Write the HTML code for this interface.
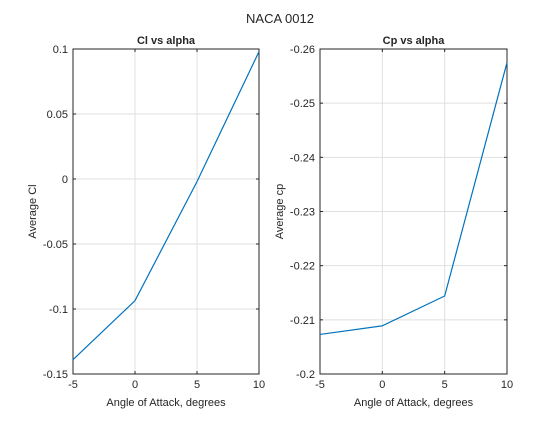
<!DOCTYPE html>
<html><head><meta charset="utf-8"><style>
body{margin:0;background:#fff;font-family:"Liberation Sans",sans-serif;}
svg text{font-family:"Liberation Sans",sans-serif;fill:#262626;}
</style></head><body>
<svg id="fig" width="560" height="420" viewBox="0 0 560 420" xmlns="http://www.w3.org/2000/svg">
<rect width="560" height="420" fill="#fff"/>
<text x="280" y="23" font-size="13" text-anchor="middle">NACA 0012</text>
</svg>
<script>
const alpha = [-5, 0, 5, 10];
const clValues = [-0.139, -0.0936, -0.002, 0.098];
const cpValues = [-0.2073, -0.2089, -0.2144, -0.2575];
const xTicks = [-5, 0, 5, 10];
const clTicks = [-0.15, -0.1, -0.05, 0, 0.05, 0.1];
const clTickLabels = ["-0.15", "-0.1", "-0.05", "0", "0.05", "0.1"];
const cpTicks = [-0.26, -0.25, -0.24, -0.23, -0.22, -0.21, -0.2];
const cpTickLabels = ["-0.26", "-0.25", "-0.24", "-0.23", "-0.22", "-0.21", "-0.2"];

const NS = "http://www.w3.org/2000/svg";
const svg = document.getElementById('fig');
function mk(tag, attrs, parent) {
  const e = document.createElementNS(NS, tag);
  for (const k in attrs) e.setAttribute(k, attrs[k]);
  (parent || svg).appendChild(e);
  return e;
}
function panel(name, x0, x1, y0, y1, yMin, yMax, reversed, yTicks, yLabels, vals, title, ylabel) {
  const g = mk('g', {});
  
  
  const sx = v => x0 + (v - xTicks[0]) / (xTicks[xTicks.length - 1] - xTicks[0]) * (x1 - x0);
  const sy = v => reversed ? y0 + (v - yMin) / (yMax - yMin) * (y1 - y0) : y1 - (v - yMin) / (yMax - yMin) * (y1 - y0);
  // grid
  xTicks.forEach(t => { const l = mk('line', {x1: sx(t), x2: sx(t), y1: y0, y2: y1, stroke: '#dfdfdf', 'stroke-width': 1}, g);
      });
  yTicks.forEach(t => { const l = mk('line', {x1: x0, x2: x1, y1: sy(t), y2: sy(t), stroke: '#dfdfdf', 'stroke-width': 1}, g);
      });
  // box
  const r = mk('rect', {x: x0, y: y0, width: x1 - x0, height: y1 - y0, fill: 'none', stroke: '#262626', 'stroke-width': 1}, g);
   
  // ticks
  xTicks.forEach(t => {
    mk('line', {x1: sx(t), x2: sx(t), y1: y1, y2: y1 - 3, stroke: '#262626'}, g);
    mk('line', {x1: sx(t), x2: sx(t), y1: y0, y2: y0 + 3, stroke: '#262626'}, g);
    const tx = mk('text', {x: sx(t), y: y1 + 14, 'font-size': 11, 'text-anchor': 'middle'}, g);
    tx.textContent = String(t);
     
  });
  yTicks.forEach((t, i) => {
    mk('line', {x1: x0, x2: x0 + 3, y1: sy(t), y2: sy(t), stroke: '#262626'}, g);
    mk('line', {x1: x1, x2: x1 - 3, y1: sy(t), y2: sy(t), stroke: '#262626'}, g);
    const tx = mk('text', {x: x0 - 5, y: sy(t) + 4, 'font-size': 11, 'text-anchor': 'end'}, g);
    tx.textContent = yLabels[i];
     
  });
  // line
  const p = mk('polyline', {points: alpha.map((a, i) => sx(a) + ',' + sy(vals[i])).join(' '), fill: 'none', stroke: '#0072bd', 'stroke-width': 1.2}, g);
   
  const t = mk('text', {x: (x0 + x1) / 2, y: y0 - 5, 'font-size': 11, 'font-weight': 'bold', 'text-anchor': 'middle'}, g);
  t.textContent = title;
   
  const xl = mk('text', {x: (x0 + x1) / 2, y: y1 + 32, 'font-size': 11, 'text-anchor': 'middle'}, g);
  xl.textContent = 'Angle of Attack, degrees';
   
  const yc = (y0 + y1) / 2, xx = x0 - 37;
  const yl = mk('text', {x: xx, y: yc, 'font-size': 11, 'text-anchor': 'middle', transform: `rotate(-90 ${xx} ${yc})`}, g);
  yl.textContent = ylabel;
   
}
panel('cl-axes', 73, 259, 49, 374, -0.15, 0.1, false, clTicks, clTickLabels, clValues, 'Cl vs alpha', 'Average Cl');
panel('cp-axes', 320, 507, 49, 374, -0.26, -0.2, true, cpTicks, cpTickLabels, cpValues, 'Cp vs alpha', 'Average cp');
</script>
</body></html>
